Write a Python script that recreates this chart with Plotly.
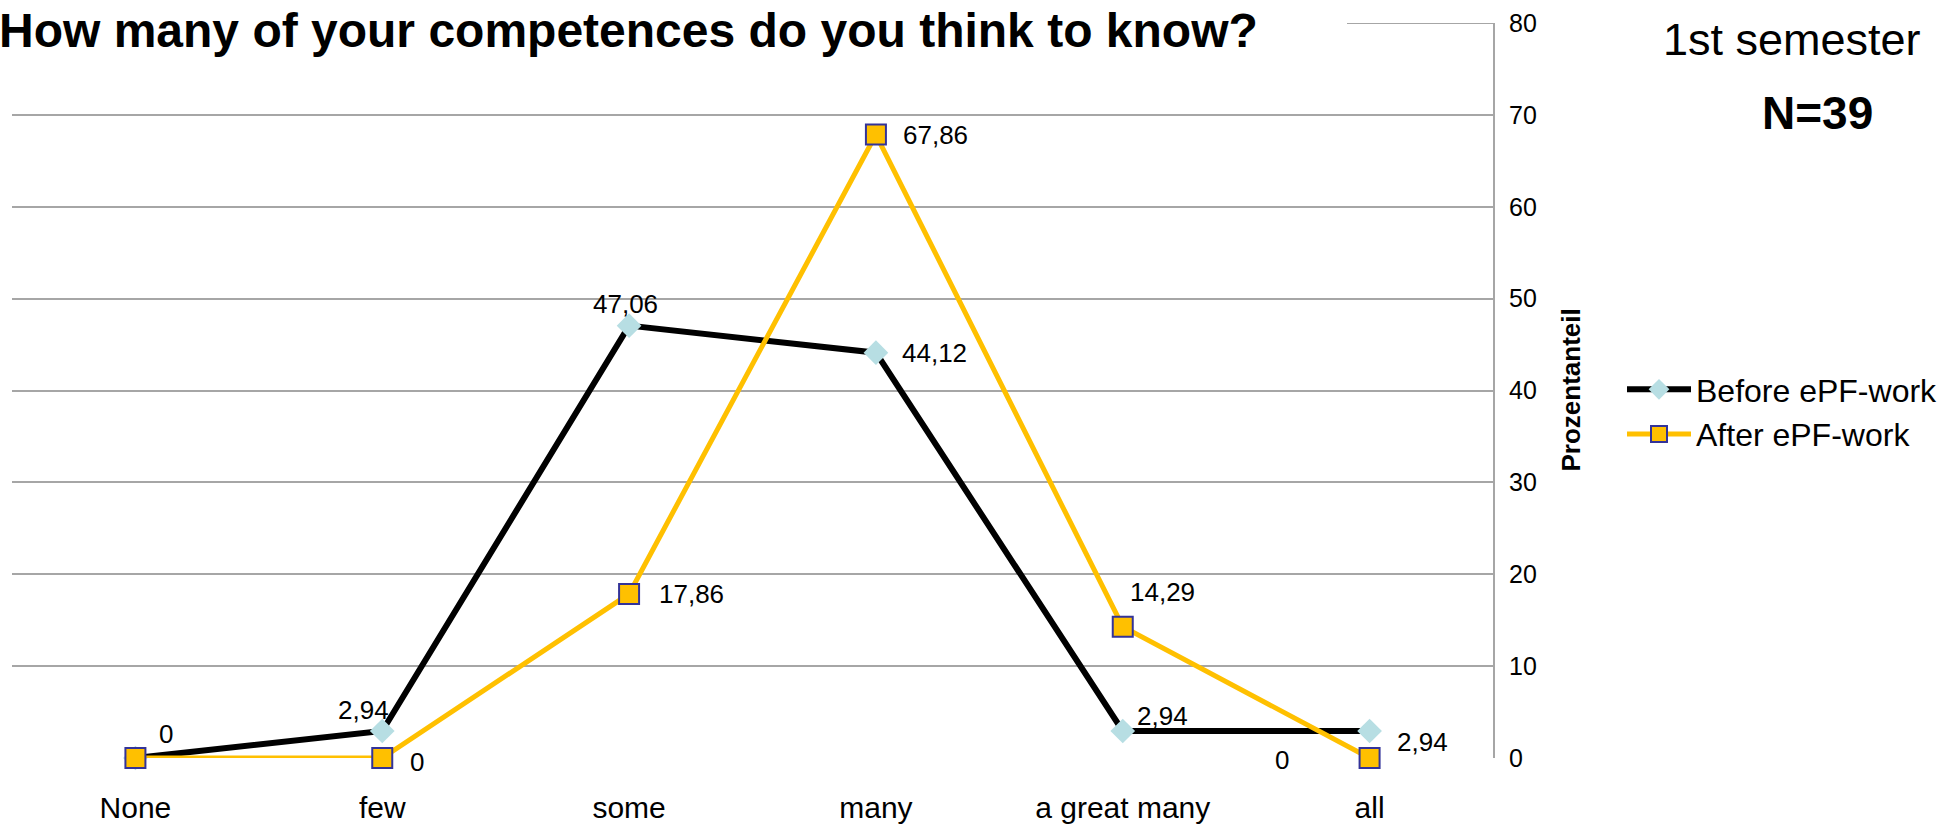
import plotly.graph_objects as go

categories = ["None", "few", "some", "many", "a great many", "all"]
before_vals = [0, 2.94, 47.06, 44.12, 2.94, 2.94]
after_vals = [0, 0, 17.86, 67.86, 14.29, 0]
before_labels = ["0", "2,94", "47,06", "44,12", "2,94", "2,94"]
after_labels = ["", "0", "17,86", "67,86", "14,29", "0"]
y_ticks = [0, 10, 20, 30, 40, 50, 60, 70, 80]

# label offsets in pixels (dx, dy with dy positive = up)
before_off = [(31, 24), (-19, 21), (-4, 22), (59, 0), (40, 15), (53, -11)]
after_off = [(31, 24), (35, -4), (62, 0), (60, 0), (40, 35), (-88, -2)]

FONT = "Liberation Sans, Arial, sans-serif"
W, H = 1955, 824
ML, MR, MT, MB = 12, 462, 23, 66
PW = W - ML - MR
PH = H - MT - MB


def px_x(p):
    return (p - ML) / PW


def px_y(p):
    return (H - MB - p) / PH


fig = go.Figure()
fig.add_trace(go.Scatter(
    x=categories, y=before_vals, name="Before ePF-work",
    mode="lines+markers",
    line=dict(color="black", width=6),
    marker=dict(symbol="diamond", size=19, color="#B7DEE3", line=dict(width=0)),
    cliponaxis=False,
))
fig.add_trace(go.Scatter(
    x=categories, y=after_vals, name="After ePF-work",
    mode="lines+markers",
    line=dict(color="#FFC000", width=5),
    marker=dict(symbol="square", size=20, color="#FFC000", line=dict(width=2, color="#333399")),
    cliponaxis=False,
))

for cats, vals, labels, offs in [(categories, before_vals, before_labels, before_off),
                                 (categories, after_vals, after_labels, after_off)]:
    for c, v, t, (dx, dy) in zip(cats, vals, labels, offs):
        if not t:
            continue
        fig.add_annotation(x=c, y=v, text=t, showarrow=False,
                           xshift=dx, yshift=dy, xanchor="center", yanchor="middle",
                           font=dict(size=26, family=FONT, color="black"))

fig.update_layout(
    width=W, height=H,
    margin=dict(l=ML, r=MR, t=MT, b=MB, autoexpand=False),
    paper_bgcolor="white", plot_bgcolor="white",
    font=dict(family=FONT, color="black"),
    showlegend=True,
    legend=dict(
        x=px_x(1622), y=px_y(362), xanchor="left", yanchor="top",
        font=dict(size=32, family=FONT, color="black"),
        bgcolor="rgba(0,0,0,0)", itemwidth=64,
    ),
    xaxis=dict(
        type="category", range=[-0.5, 5.5], showgrid=False, showline=False,
        zeroline=False, ticks="", tickfont=dict(size=30, family=FONT, color="black"),
        ticklabelstandoff=29, automargin=False,
    ),
    yaxis=dict(
        side="right", range=[0, 80], tickvals=y_ticks,
        ticktext=[str(v) for v in y_ticks],
        showgrid=True, gridcolor="#A6A6A6", gridwidth=2,
        showline=True, linecolor="#A6A6A6", linewidth=2,
        zeroline=False, ticks="", ticklabelstandoff=9,
        tickfont=dict(size=25, family=FONT, color="black"), automargin=False,
    ),
)

# white band hiding the top gridline behind the title, then the visible stub of it
fig.add_shape(type="rect", xref="paper", yref="paper",
              x0=-0.02, x1=px_x(1347), y0=px_y(30), y1=px_y(14),
              fillcolor="white", line=dict(width=0), layer="between")
fig.add_shape(type="line", xref="paper", yref="y",
              x0=px_x(1347), x1=1, y0=80, y1=80,
              line=dict(color="#A6A6A6", width=2), layer="between")

fig.add_annotation(text="<b>How many of your competences do you think to know?</b>",
                   xref="paper", yref="paper", x=px_x(-3), y=px_y(31),
                   xanchor="left", yanchor="middle", showarrow=False,
                   font=dict(size=48, family=FONT, color="black"))
fig.add_annotation(text="1st semester", xref="paper", yref="paper",
                   x=px_x(1792), y=px_y(40), xanchor="center", yanchor="middle",
                   showarrow=False, font=dict(size=45, family=FONT, color="black"))
fig.add_annotation(text="<b>N=39</b>", xref="paper", yref="paper",
                   x=px_x(1817), y=px_y(113), xanchor="center", yanchor="middle",
                   showarrow=False, font=dict(size=46, family=FONT, color="black"))
fig.add_annotation(text="<b>Prozentanteil</b>", xref="paper", yref="paper",
                   x=px_x(1570), y=0.5, xanchor="center", yanchor="middle",
                   textangle=-90, showarrow=False,
                   font=dict(size=26, family=FONT, color="black"))

fig.write_html("out.html")
